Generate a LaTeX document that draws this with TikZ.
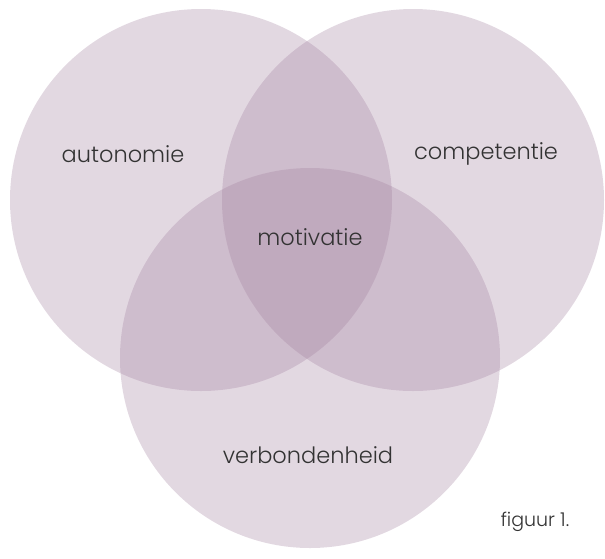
\documentclass[tikz,border=0pt]{standalone}
\usepackage{fontspec}
\setmainfont{Poppins Light}
\usepackage{tikz}
\definecolor{mauve}{RGB}{160,126,157}
\tikzset{
    set/.style={fill=mauve, fill opacity=0.3, draw=none},
    label text/.style={text=black!80, font=\fontsize{22.5}{26}\selectfont},
    note text/.style={text=black!80, font=\fontsize{19}{22}\selectfont}
}

\begin{document}
\begin{tikzpicture}[x=1pt, y=-1pt]
    \useasboundingbox (0,0) rectangle (605,558);

    % the three sets
    \fill[set] (201,200) circle (191pt);
    \fill[set] (413,200) circle (191pt);
    \fill[set] (310,358) circle (190pt);

    \node[label text] (autonomie) at (123,154) {autonomie};
    \node[label text] (competentie) at (486,154) {competentie};
    \node[label text] (motivatie) at (310,237) {motivatie};
    \node[label text] (verbondenheid) at (308,455) {verbondenheid};
    \node[note text] (figuur) at (535,522) {figuur 1.};
\end{tikzpicture}
\end{document}
